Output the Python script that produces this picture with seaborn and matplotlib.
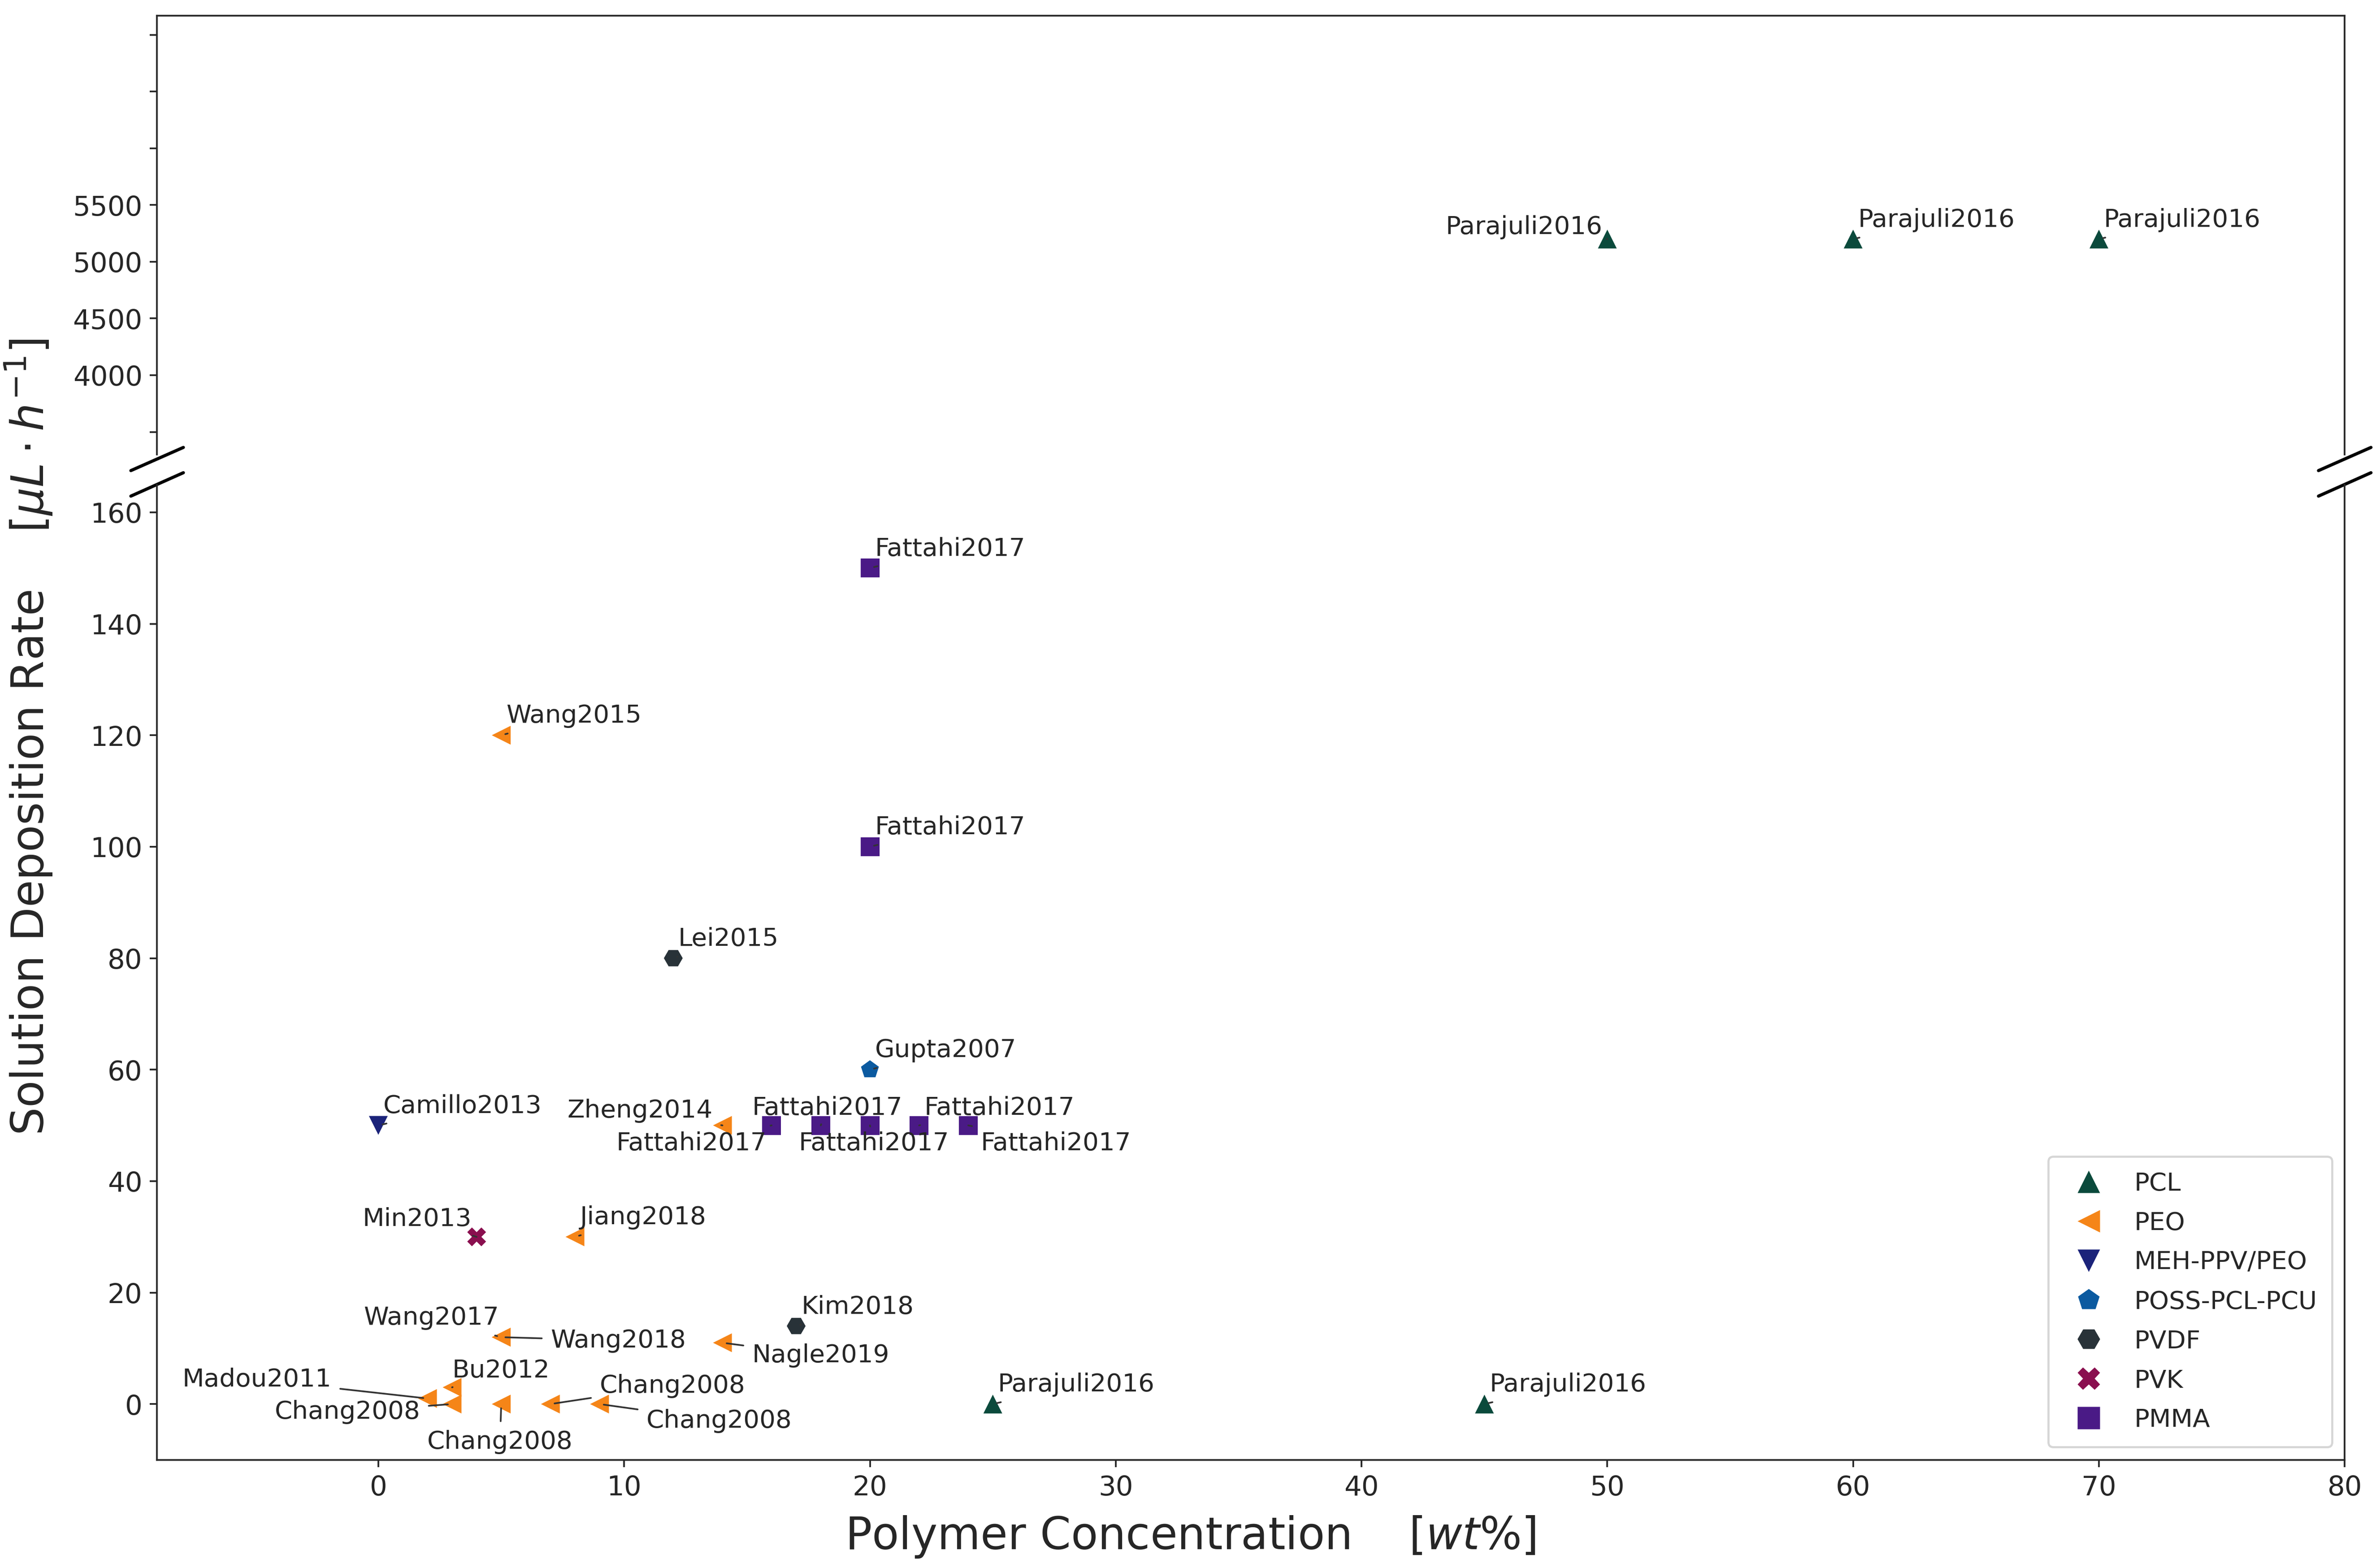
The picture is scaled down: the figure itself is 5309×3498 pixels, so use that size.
import matplotlib
matplotlib.use("Agg")
import matplotlib.pyplot as plt
import numpy as np
import pandas as pd
import seaborn as sns

# data: polymer, concentration [wt%], rate [uL/h], reference
polymers = ["PCL"] * 5 + ["PEO"] * 12 + ["MEH-PPV/PEO", "POSS-PCL-PCU", "PVDF", "PVDF", "PVK"] + ["PMMA"] * 7
conc = [50, 60, 70, 25, 45,
        5, 14, 8, 5, 5, 14, 2, 3, 3, 5, 7, 9,
        0, 20, 12, 17, 4,
        20, 20, 16, 18, 20, 22, 24]
rate = [5200, 5200, 5200, 0, 0,
        120, 50, 30, 12, 12, 11, 1, 3, 0, 0, 0, 0,
        50, 60, 80, 14, 30,
        150, 100, 50, 50, 50, 50, 50]
refs = ["Parajuli2016"] * 5 + ["Wang2015", "Zheng2014", "Jiang2018", "Wang2017", "Wang2018", "Nagle2019",
        "Madou2011", "Bu2012", "Chang2008", "Chang2008", "Chang2008", "Chang2008",
        "Camillo2013", "Gupta2007", "Lei2015", "Kim2018", "Min2013"] + ["Fattahi2017"] * 7

# label placement (dx, dy in data units, ha, va); None -> default upper right
label_pos = [(-0.2, 0, "right", "bottom"), None, None, None, None,
             None, (-0.4, 0.5, "right", "bottom"), None, (-0.1, 1.3, "right", "bottom"), (2.0, -0.6, "left", "center"),
             (1.2, -2.3, "left", "center"), (-3.9, 3.4, "right", "center"), (0.0, 3.0, "left", "center"),
             (-1.3, -1.4, "right", "center"), (-0.05, -6.8, "center", "center"), (2.0, 3.3, "left", "center"),
             (1.9, -3.0, "left", "center"),
             None, None, None, None, (-0.2, 1.0, "right", "bottom"),
             None, None, (-0.2, -1.0, "right", "top"), (-2.8, 1.0, "left", "bottom"), (-2.9, -1.0, "left", "top"),
             (0.2, 1.0, "left", "bottom"), (0.5, -1.0, "left", "top")]

order = ["PCL", "PEO", "MEH-PPV/PEO", "POSS-PCL-PCU", "PVDF", "PVK", "PMMA"]
colors = ["#0b4a3c", "#f58518", "#1b237a", "#0b5aa0", "#283238", "#8a0f4f", "#4a1a86"]
markers = ["^", "<", "v", "p", "H", "X", "s"]

df = pd.DataFrame({"polymer": polymers, "conc": conc, "rate": rate, "ref": refs})

sns.set_style("ticks")
plt.rcParams["font.family"] = ["DejaVu Sans"]

fig = plt.figure(figsize=(15.71, 10.35), dpi=338)
ax_top = fig.add_axes([0.066, 0.71, 0.919, 0.28])
ax_bot = fig.add_axes([0.066, 0.069, 0.919, 0.622])

pal = dict(zip(order, colors))
mk = dict(zip(order, markers))
for ax, show in ((ax_top, False), (ax_bot, True)):
    sns.scatterplot(data=df, x="conc", y="rate", hue="polymer", style="polymer",
                    hue_order=order, style_order=order, palette=pal, markers=mk,
                    s=80, edgecolor="none", legend=show, ax=ax)
    ax.set_xlim(-9, 80)
    ax.set_xlabel("")
    ax.set_ylabel("")
    ax.tick_params(labelsize=13)

ax_top.set_ylim(3300, 7170)
ax_top.set_yticks([3500, 4000, 4500, 5000, 5500, 6000, 6500, 7000])
ax_top.set_yticklabels(["", "4000", "4500", "5000", "5500", "", "", ""])
ax_top.spines["bottom"].set_visible(False)
ax_top.tick_params(axis="x", bottom=False, labelbottom=False)
ax_bot.set_ylim(-10, 165)
ax_bot.set_yticks(np.arange(0, 161, 20))
ax_bot.set_xticks(np.arange(0, 81, 10))
ax_bot.spines["top"].set_visible(False)

# break marks
d = 0.012
kw = dict(color="k", clip_on=False, lw=1.5)
ax_top.plot((-d, d), (-d * 2.2 - 0.01, d * 2.2 - 0.01), transform=ax_top.transAxes, **kw)
ax_top.plot((1 - d, 1 + d), (-d * 2.2 - 0.01, d * 2.2 - 0.01), transform=ax_top.transAxes, **kw)
ax_bot.plot((-d, d), (1 - d, 1 + d), transform=ax_bot.transAxes, **kw)
ax_bot.plot((1 - d, 1 + d), (1 - d, 1 + d), transform=ax_bot.transAxes, **kw)

for x, y, r, lp in zip(conc, rate, refs, label_pos):
    ax = ax_top if y > 1000 else ax_bot
    if lp is None:
        tx, ty, ha, va = x + 0.2, y + (60 if y > 1000 else 1.3), "left", "bottom"
    else:
        dx, dy, ha, va = lp
        tx, ty = x + dx, y + (dy * 35 if y > 1000 else dy)
    ax.annotate(r, xy=(x, y), xytext=(tx, ty), ha=ha, va=va, fontsize=12,
                arrowprops=dict(arrowstyle="-", color="#333333", lw=0.8))

leg = ax_bot.legend(loc="lower right", fontsize=12, frameon=True, markerscale=1.2,
                    borderpad=0.6, labelspacing=0.6)
leg.get_frame().set_edgecolor("#cccccc")

fig.text(0.5, 0.012, "Polymer Concentration    [$wt\\%$]", ha="center", fontsize=21)
fig.text(0.012, 0.53, "Solution Deposition Rate    [$\\mu L \\cdot h^{-1}$]", rotation=90,
         va="center", ha="center", fontsize=21)

fig.savefig("out.png", dpi=338)
